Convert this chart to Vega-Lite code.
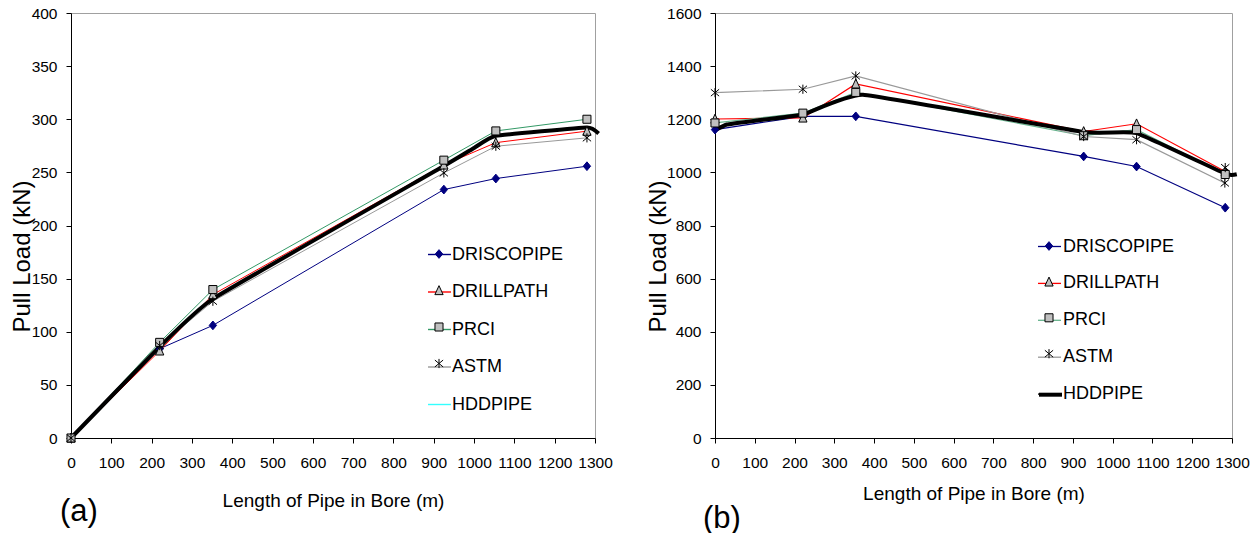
{
  "$schema": "https://vega.github.io/schema/vega-lite/v6.json",
  "padding": {"left": 10, "top": 5, "right": 0, "bottom": 0},
  "bounds": "flush",
  "spacing": 120,
  "resolve": {"scale": {"color": "independent", "shape": "independent", "fill": "independent", "stroke": "independent"}, "legend": {"color": "independent", "shape": "independent", "fill": "independent", "stroke": "independent"}},
  "datasets": {
    "a": [
      {"series": "DRISCOPIPE", "x": 0, "y": 0},
      {"series": "DRISCOPIPE", "x": 220, "y": 84},
      {"series": "DRISCOPIPE", "x": 352, "y": 106},
      {"series": "DRISCOPIPE", "x": 925, "y": 233.8},
      {"series": "DRISCOPIPE", "x": 1054, "y": 244.2},
      {"series": "DRISCOPIPE", "x": 1280, "y": 255.8},
      {"series": "DRILLPATH", "x": 0, "y": 0},
      {"series": "DRILLPATH", "x": 220, "y": 82},
      {"series": "DRILLPATH", "x": 352, "y": 135},
      {"series": "DRILLPATH", "x": 925, "y": 257},
      {"series": "DRILLPATH", "x": 1054, "y": 278},
      {"series": "DRILLPATH", "x": 1280, "y": 288.8},
      {"series": "PRCI", "x": 0, "y": 0},
      {"series": "PRCI", "x": 220, "y": 90},
      {"series": "PRCI", "x": 352, "y": 139.7},
      {"series": "PRCI", "x": 925, "y": 261.5},
      {"series": "PRCI", "x": 1054, "y": 289},
      {"series": "PRCI", "x": 1280, "y": 300},
      {"series": "ASTM", "x": 0, "y": 0},
      {"series": "ASTM", "x": 220, "y": 87},
      {"series": "ASTM", "x": 352, "y": 128.7},
      {"series": "ASTM", "x": 925, "y": 249.5},
      {"series": "ASTM", "x": 1054, "y": 274.6},
      {"series": "ASTM", "x": 1280, "y": 282.5},
      {"series": "HDDPIPE", "x": 0, "y": 0},
      {"series": "HDDPIPE", "x": 220, "y": 86},
      {"series": "HDDPIPE", "x": 352, "y": 131},
      {"series": "HDDPIPE", "x": 925, "y": 256},
      {"series": "HDDPIPE", "x": 1000, "y": 273},
      {"series": "HDDPIPE", "x": 1054, "y": 284.4},
      {"series": "HDDPIPE", "x": 1280, "y": 292.2},
      {"series": "HDDPIPE", "x": 1309, "y": 286.6}
    ],
    "b": [
      {"series": "DRISCOPIPE", "x": 0, "y": 1161},
      {"series": "DRISCOPIPE", "x": 221, "y": 1211},
      {"series": "DRISCOPIPE", "x": 354, "y": 1211},
      {"series": "DRISCOPIPE", "x": 927, "y": 1060},
      {"series": "DRISCOPIPE", "x": 1060, "y": 1022},
      {"series": "DRISCOPIPE", "x": 1283, "y": 867},
      {"series": "DRILLPATH", "x": 0, "y": 1201},
      {"series": "DRILLPATH", "x": 221, "y": 1205},
      {"series": "DRILLPATH", "x": 354, "y": 1333},
      {"series": "DRILLPATH", "x": 927, "y": 1154},
      {"series": "DRILLPATH", "x": 1060, "y": 1183},
      {"series": "DRILLPATH", "x": 1283, "y": 1003},
      {"series": "PRCI", "x": 0, "y": 1186},
      {"series": "PRCI", "x": 221, "y": 1223},
      {"series": "PRCI", "x": 354, "y": 1301},
      {"series": "PRCI", "x": 927, "y": 1138},
      {"series": "PRCI", "x": 1060, "y": 1161},
      {"series": "PRCI", "x": 1283, "y": 992},
      {"series": "ASTM", "x": 0, "y": 1300},
      {"series": "ASTM", "x": 221, "y": 1313},
      {"series": "ASTM", "x": 354, "y": 1363},
      {"series": "ASTM", "x": 927, "y": 1135},
      {"series": "ASTM", "x": 1060, "y": 1123},
      {"series": "ASTM", "x": 1282, "y": 960},
      {"series": "ASTM", "x": 1283, "y": 1018},
      {"series": "HDDPIPE", "x": 0, "y": 1158},
      {"series": "HDDPIPE", "x": 30, "y": 1180},
      {"series": "HDDPIPE", "x": 105, "y": 1195},
      {"series": "HDDPIPE", "x": 221, "y": 1218},
      {"series": "HDDPIPE", "x": 372, "y": 1292},
      {"series": "HDDPIPE", "x": 927, "y": 1152},
      {"series": "HDDPIPE", "x": 1060, "y": 1148},
      {"series": "HDDPIPE", "x": 1283, "y": 995},
      {"series": "HDDPIPE", "x": 1312, "y": 993}
    ]
  },
  "hconcat": [
    {
      "width": 524,
      "height": 425,
      "data": {"name": "a"},
      "title": {"text": "(a)", "orient": "bottom", "anchor": "start", "frame": "group", "dx": -11, "offset": -14, "font": "Liberation Sans", "fontSize": 31, "fontWeight": "normal", "color": "black"},
      "encoding": {
        "x": {"field": "x", "type": "quantitative", "scale": {"domain": [0, 1300], "nice": false},
          "axis": {"title": "Length of Pipe in Bore (m)", "format": "d", "values": [0,100,200,300,400,500,600,700,800,900,1000,1100,1200,1300], "titlePadding": 21}},
        "y": {"field": "y", "type": "quantitative", "scale": {"domain": [0, 400], "nice": false},
          "axis": {"title": "Pull Load (kN)", "format": "d", "values": [0,50,100,150,200,250,300,350,400], "titleX": -60.4, "titleY": 243, "titleAngle": -90, "titleAlign": "center", "titleBaseline": "top"}}
      },
      "layer": [
        {
          "transform": [{"filter": "datum.series != 'HDDPIPE'"}],
          "mark": {"type": "line", "strokeWidth": 1},
          "encoding": {
            "color": {"field": "series", "type": "nominal",
              "scale": {"domain": ["DRISCOPIPE", "DRILLPATH", "PRCI", "ASTM", "HDDPIPE"], "range": ["#000080", "#ff0000", "#339966", "#999999", "#33ffff"]},
              "legend": {"title": null, "orient": "none", "legendX": 356, "legendY": 229, "symbolType": "stroke", "symbolSize": 529, "symbolStrokeWidth": 1.4, "labelOffset": 0, "rowPadding": 15.5, "padding": 0}}
          }
        },
        {
          "transform": [{"filter": "datum.series == 'HDDPIPE'"}],
          "mark": {"type": "line", "color": "black", "strokeWidth": 4, "interpolate": "cardinal", "tension": 0.7},
          "encoding": {}
        },
        {
          "transform": [{"filter": "datum.series != 'HDDPIPE'"}],
          "mark": {"type": "point", "size": 529, "strokeWidth": 1, "opacity": 1},
          "encoding": {
            "shape": {"field": "series", "type": "nominal",
              "scale": {"domain": ["DRISCOPIPE", "DRILLPATH", "PRCI", "ASTM"], "range": ["M0,-0.38L0.32,0L0,0.38L-0.32,0Z", "M0,-0.42L0.36,0.36L-0.36,0.36Z", "M-0.35,-0.35H0.35V0.35H-0.35Z", "M0,-0.4V0.4M-0.36,-0.3L0.36,0.3M-0.36,0.3L0.36,-0.3"]},
              "legend": {"title": null, "orient": "none", "legendX": 356, "legendY": 229, "symbolSize": 529, "symbolStrokeWidth": 1, "labelOffset": 0, "rowPadding": 15.5, "padding": 0, "labelOpacity": 0, "zindex": 1}},
            "fill": {"field": "series", "type": "nominal",
              "scale": {"domain": ["DRISCOPIPE", "DRILLPATH", "PRCI", "ASTM"], "range": ["#000080", "#c0c0c0", "#c0c0c0", "transparent"]},
              "legend": {"title": null, "orient": "none", "legendX": 356, "legendY": 229, "symbolSize": 529, "symbolStrokeWidth": 1, "labelOffset": 0, "rowPadding": 15.5, "padding": 0, "labelOpacity": 0, "zindex": 1}},
            "stroke": {"field": "series", "type": "nominal",
              "scale": {"domain": ["DRISCOPIPE", "DRILLPATH", "PRCI", "ASTM"], "range": ["#000080", "#000000", "#000000", "#000000"]},
              "legend": {"title": null, "orient": "none", "legendX": 356, "legendY": 229, "symbolSize": 529, "symbolStrokeWidth": 1, "labelOffset": 0, "rowPadding": 15.5, "padding": 0, "labelOpacity": 0, "zindex": 1}}
          }
        }
      ]
    },
    {
      "width": 517,
      "height": 425,
      "data": {"name": "b"},
      "title": {"text": "(b)", "orient": "bottom", "anchor": "start", "frame": "group", "dx": -12, "offset": 0, "font": "Liberation Sans", "fontSize": 31, "fontWeight": "normal", "color": "black"},
      "resolve": {"scale": {"color": "independent"}, "legend": {"color": "independent"}},
      "encoding": {
        "x": {"field": "x", "type": "quantitative", "scale": {"domain": [0, 1300], "nice": false},
          "axis": {"title": "Length of Pipe in Bore (m)", "format": "d", "values": [0,100,200,300,400,500,600,700,800,900,1000,1100,1200,1300], "titlePadding": 14}},
        "y": {"field": "y", "type": "quantitative", "scale": {"domain": [0, 1600], "nice": false},
          "axis": {"title": "Pull Load (kN)", "format": "d", "values": [0,200,400,600,800,1000,1200,1400,1600], "titleX": -68.7, "titleY": 243, "titleAngle": -90, "titleAlign": "center", "titleBaseline": "top"}}
      },
      "layer": [
        {
          "transform": [{"filter": "datum.series != 'HDDPIPE'"}],
          "mark": {"type": "line", "strokeWidth": 1.2},
          "encoding": {
            "color": {"field": "series", "type": "nominal",
              "scale": {"domain": ["DRISCOPIPE", "DRILLPATH", "PRCI", "ASTM", "HDDPIPE"], "range": ["#000080", "#ff0000", "#66b38c", "#999999", "#000000"]},
              "legend": {"title": null, "orient": "none", "legendX": 322, "legendY": 221, "symbolType": "stroke", "symbolSize": 529, "symbolStrokeWidth": 1.3, "labelOffset": 1, "rowPadding": 14.9, "padding": 0}}
          }
        },
        {
          "transform": [{"filter": "datum.series == 'HDDPIPE'"}],
          "mark": {"type": "line", "strokeWidth": 4, "interpolate": "cardinal", "tension": 0.7},
          "encoding": {
            "color": {"field": "series", "type": "nominal",
              "scale": {"domain": ["HDDPIPE"], "range": ["#000000"]},
              "legend": {"title": null, "orient": "none", "legendX": 322, "legendY": 368.2, "symbolType": "stroke", "symbolSize": 529, "symbolStrokeWidth": 4, "labelOffset": 1, "padding": 0, "labelOpacity": 0, "zindex": 2}}
          }
        },
        {
          "transform": [{"filter": "datum.series != 'HDDPIPE'"}],
          "mark": {"type": "point", "size": 529, "strokeWidth": 1, "opacity": 1},
          "encoding": {
            "shape": {"field": "series", "type": "nominal",
              "scale": {"domain": ["DRISCOPIPE", "DRILLPATH", "PRCI", "ASTM"], "range": ["M0,-0.38L0.32,0L0,0.38L-0.32,0Z", "M0,-0.42L0.36,0.36L-0.36,0.36Z", "M-0.35,-0.35H0.35V0.35H-0.35Z", "M0,-0.4V0.4M-0.36,-0.3L0.36,0.3M-0.36,0.3L0.36,-0.3"]},
              "legend": {"title": null, "orient": "none", "legendX": 322, "legendY": 221, "symbolSize": 529, "symbolStrokeWidth": 1, "labelOffset": 1, "rowPadding": 14.9, "padding": 0, "labelOpacity": 0, "zindex": 1}},
            "fill": {"field": "series", "type": "nominal",
              "scale": {"domain": ["DRISCOPIPE", "DRILLPATH", "PRCI", "ASTM"], "range": ["#000080", "#c0c0c0", "#c0c0c0", "transparent"]},
              "legend": {"title": null, "orient": "none", "legendX": 322, "legendY": 221, "symbolSize": 529, "symbolStrokeWidth": 1, "labelOffset": 1, "rowPadding": 14.9, "padding": 0, "labelOpacity": 0, "zindex": 1}},
            "stroke": {"field": "series", "type": "nominal",
              "scale": {"domain": ["DRISCOPIPE", "DRILLPATH", "PRCI", "ASTM"], "range": ["#000080", "#000000", "#000000", "#000000"]},
              "legend": {"title": null, "orient": "none", "legendX": 322, "legendY": 221, "symbolSize": 529, "symbolStrokeWidth": 1, "labelOffset": 1, "rowPadding": 14.9, "padding": 0, "labelOpacity": 0, "zindex": 1}}
          }
        }
      ]
    }
  ],
  "config": {
    "background": "white",
    "view": {"stroke": "#a0a0a0", "strokeWidth": 1},
    "axis": {"grid": false, "domainColor": "black", "tickColor": "black", "tickSize": 5, "domainWidth": 1, "tickWidth": 1,
      "labelFont": "Liberation Sans", "labelFontSize": 15.5, "labelColor": "black", "labelFlush": false, "labelOverlap": false,
      "titleColor": "black", "titleFontWeight": "normal"},
    "axisX": {"labelPadding": 12, "titleFont": "Liberation Sans", "titleFontSize": 19},
    "axisY": {"labelPadding": 9, "titleFont": "Liberation Sans", "titleFontSize": 24},
    "legend": {"labelFont": "Liberation Sans", "labelFontSize": 18, "labelColor": "black"}
  }
}
